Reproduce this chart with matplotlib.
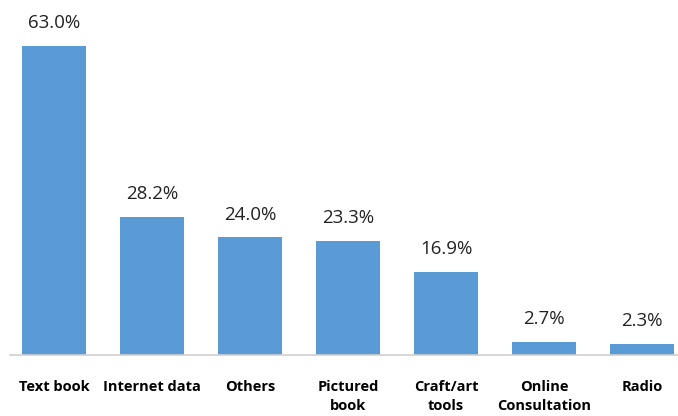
import matplotlib
matplotlib.use("Agg")
import matplotlib.pyplot as plt

categories = ["Text book", "Internet data", "Others", "Pictured\nbook", "Craft/art\ntools", "Online\nConsultation", "Radio"]
values = [63.0, 28.2, 24.0, 23.3, 16.9, 2.7, 2.3]
value_labels = ["63.0%", "28.2%", "24.0%", "23.3%", "16.9%", "2.7%", "2.3%"]

fig = plt.figure(figsize=(6.78, 4.16), dpi=100)
ax = fig.add_axes([10/678, 61/416, 668/678, 355/416])
x = list(range(len(categories)))
bars = ax.bar(x, values, width=0.66, color="#5B9BD5")
ax.set_xlim(-0.449, 6.367)
ax.set_ylim(0, 72.45)

for xi, v, lab in zip(x, values, value_labels):
    ax.annotate(lab, (xi, v), xytext=(0, 10), textcoords="offset points",
                ha="center", va="bottom", fontsize=13.5, family="Open Sans", color="#222222")

ax.set_xticks(x)
ax.set_xticklabels(categories, fontsize=10.5, fontweight="bold", family="Open Sans", linespacing=1.45, va="top")
ax.tick_params(axis="x", length=0, pad=18)
ax.set_yticks([])
for s in ["left", "right", "top"]:
    ax.spines[s].set_visible(False)
ax.spines["bottom"].set_color("#d0d0d0")
ax.spines["bottom"].set_linewidth(1.2)

fig.savefig("out.png", dpi=100)
